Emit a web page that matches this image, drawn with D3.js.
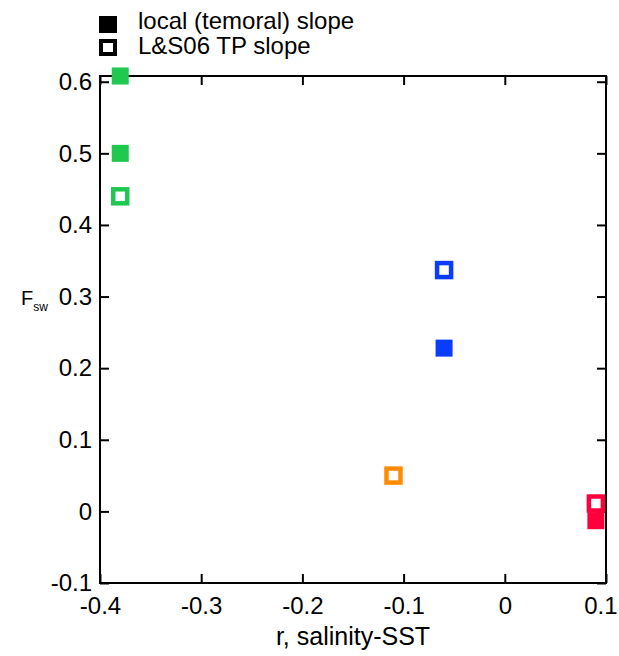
<!DOCTYPE html>
<html>
<head>
<meta charset="utf-8">
<script src="https://cdn.jsdelivr.net/npm/d3@7"></script>
<style>
  body { margin: 0; background: #fff; }
  text { font-family: "Liberation Sans", Arial, sans-serif; fill: #000; }
</style>
</head>
<body>
<svg id="svg" width="619" height="656"></svg>
<script>
// local (temporal) slope, filled squares
const localX = [-0.38, -0.38, -0.06, 0.09];
const localY = [0.608, 0.5, 0.228, -0.013];
const localColor = ["#1fc94f", "#1fc94f", "#0a3cff", "#ff003c"];

// L&S06 TP slope, open squares
const tpX = [-0.38, -0.06, -0.11, 0.09];
const tpY = [0.44, 0.337, 0.05, 0.011];
const tpColor = ["#1fc94f", "#0a3cff", "#ff8c00", "#ff003c"];

const xTicks = [-0.4, -0.3, -0.2, -0.1, 0, 0.1];
const yTicks = [-0.1, 0, 0.1, 0.2, 0.3, 0.4, 0.5, 0.6];
const legendLabels = ["local (temoral) slope", "L&S06 TP slope"];

const margin = { left: 100, right: 13, top: 76, bottom: 73 };
const width = 619, height = 656;

let svg = d3.select("#svg");

const x = d3.scaleLinear().domain([-0.4, 0.1]).range([margin.left, width - margin.right]);
const y = d3.scaleLinear().domain([-0.1, 0.608]).range([height - margin.bottom, margin.top]);

// plain hyphen for negatives, like the original
const fmt = (d) => (d === 0 ? "0" : d.toFixed(1));
const tickLen = 9;

function styleAxis(g) {
  g.select(".domain").remove();
  g.selectAll(".tick line").attr("stroke", "#000").attr("stroke-width", 2);
  g.selectAll(".tick text").attr("font-size", 24).attr("fill", "#000");
}

// bottom axis with labels
let xAxis = svg.append("g")
  .attr("transform", `translate(0,${y.range()[0]})`)
  .call(d3.axisBottom(x).tickValues(xTicks).tickFormat(fmt).tickSizeInner(-tickLen).tickSizeOuter(0).tickPadding(14))
  .call(styleAxis);
// last label sits against the window edge
xAxis.selectAll(".tick text")
  .filter((d) => d === 0.1)
  .attr("text-anchor", "end")
  .attr("x", 11);

// top mirror ticks
svg.append("g")
  .attr("transform", `translate(0,${y.range()[1]})`)
  .call(d3.axisTop(x).tickValues(xTicks).tickFormat("").tickSizeInner(-tickLen).tickSizeOuter(0))
  .call(styleAxis);

// left axis with labels
svg.append("g")
  .attr("transform", `translate(${x.range()[0]},0)`)
  .call(d3.axisLeft(y).tickValues(yTicks).tickFormat(fmt).tickSizeInner(-tickLen).tickSizeOuter(0).tickPadding(8))
  .call(styleAxis);

// right mirror ticks
svg.append("g")
  .attr("transform", `translate(${x.range()[1]},0)`)
  .call(d3.axisRight(y).tickValues(yTicks).tickFormat("").tickSizeInner(-tickLen).tickSizeOuter(0))
  .call(styleAxis);

// frame
svg.append("rect")
  .attr("x", x.range()[0])
  .attr("y", y.range()[1])
  .attr("width", x.range()[1] - x.range()[0])
  .attr("height", y.range()[0] - y.range()[1])
  .attr("fill", "none")
  .attr("stroke", "#000")
  .attr("stroke-width", 2);

// axis titles
svg.append("text")
  .attr("x", (x.range()[0] + x.range()[1]) / 2)
  .attr("y", 645)
  .attr("text-anchor", "middle")
  .attr("font-size", 25)
  .text("r, salinity-SST");

let ylab = svg.append("text").attr("x", 21).attr("y", 305).attr("font-size", 20);
ylab.append("tspan").text("F");
ylab.append("tspan").attr("font-size", 12).attr("dy", 6).text("sw");

// markers
const filledSize = 17;
const openSize = 14;

const tpData = tpX.map((d, i) => ({ x: d, y: tpY[i], c: tpColor[i] }));
const localData = localX.map((d, i) => ({ x: d, y: localY[i], c: localColor[i] }));

svg.append("g").selectAll("rect")
  .data(tpData)
  .enter()
  .append("rect")
  .attr("x", (d) => x(d.x) - openSize / 2)
  .attr("y", (d) => y(d.y) - openSize / 2)
  .attr("width", openSize)
  .attr("height", openSize)
  .attr("fill", "#fff")
  .attr("stroke", (d) => d.c)
  .attr("stroke-width", 4.5);

svg.append("g").selectAll("rect")
  .data(localData)
  .enter()
  .append("rect")
  .attr("x", (d) => x(d.x) - filledSize / 2)
  .attr("y", (d) => y(d.y) - filledSize / 2)
  .attr("width", filledSize)
  .attr("height", filledSize)
  .attr("fill", (d) => d.c);

// legend
let legend = svg.append("g");
legend.append("rect")
  .attr("x", 99).attr("y", 16).attr("width", 18).attr("height", 17)
  .attr("fill", "#000");
legend.append("rect")
  .attr("x", 101).attr("y", 41).attr("width", 14).attr("height", 13)
  .attr("fill", "none").attr("stroke", "#000").attr("stroke-width", 4);
legend.selectAll("text")
  .data(legendLabels)
  .enter()
  .append("text")
  .attr("x", 138)
  .attr("y", (d, i) => 29 + i * 25)
  .attr("font-size", 24)
  .text((d) => d);
</script>
</body>
</html>
